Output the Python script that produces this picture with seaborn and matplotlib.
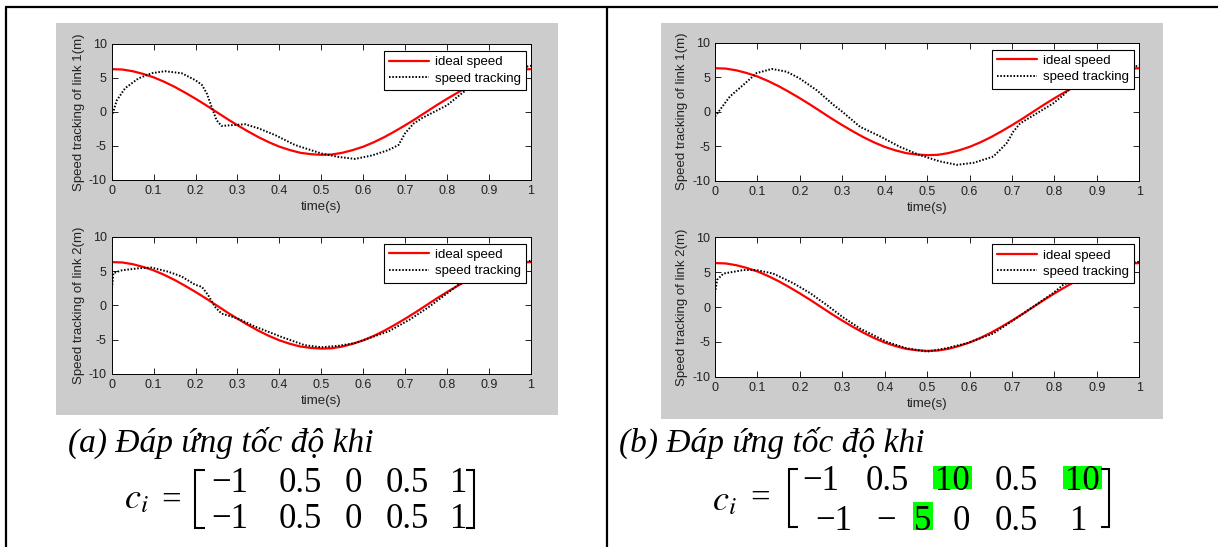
import matplotlib
matplotlib.use("Agg")
import matplotlib.pyplot as plt
import seaborn as sns
from matplotlib.lines import Line2D
from matplotlib.patches import Rectangle

# ---------------- data ----------------
t_ideal = [0, 0.025, 0.05, 0.075, 0.1, 0.125, 0.15, 0.175, 0.2, 0.225, 0.25,
           0.275, 0.3, 0.325, 0.35, 0.375, 0.4, 0.425, 0.45, 0.475, 0.5,
           0.525, 0.55, 0.575, 0.6, 0.625, 0.65, 0.675, 0.7, 0.725, 0.75,
           0.775, 0.8, 0.825, 0.85, 0.875, 0.9, 0.925, 0.95, 0.975, 1.0]
v_ideal = [6.3, 6.25, 6.0, 5.6, 5.1, 4.45, 3.7, 2.85, 1.95, 1.0, 0.0,
           -1.0, -1.95, -2.85, -3.7, -4.45, -5.1, -5.6, -6.0, -6.2, -6.3,
           -6.25, -6.0, -5.6, -5.1, -4.45, -3.7, -2.85, -1.95, -1.0, 0.0,
           1.0, 1.95, 2.85, 3.7, 4.45, 5.1, 5.6, 6.0, 6.25, 6.3]

# (a) link 1 tracking
t_a1 = [0, 0.012, 0.032, 0.064, 0.095, 0.127, 0.167, 0.199, 0.215, 0.227, 0.238,
        0.25, 0.262, 0.294, 0.318, 0.35, 0.39, 0.437, 0.5, 0.54, 0.58, 0.62,
        0.66, 0.684, 0.70, 0.72, 0.74, 0.77, 0.80, 0.83, 0.86, 0.9, 0.95, 1.0]
v_a1 = [-0.7, 1.7, 3.5, 4.95, 5.7, 6.0, 5.7, 4.7, 4.0, 2.7, 0.8,
        -1.2, -2.05, -1.9, -1.8, -2.4, -3.4, -4.85, -6.1, -6.6, -6.9, -6.4,
        -5.6, -4.85, -3.1, -1.7, -0.9, 0.05, 1.0, 2.5, 3.9, 5.2, 6.2, 6.8]

# (a) link 2 tracking
t_a2 = [0, 0.004, 0.024, 0.064, 0.095, 0.135, 0.167, 0.199, 0.215, 0.23, 0.246,
        0.262, 0.3, 0.342, 0.405, 0.46, 0.5, 0.54, 0.58, 0.66, 0.71, 0.755,
        0.80, 0.827, 0.86, 0.9, 0.95, 1.0]
v_a2 = [2.0, 4.7, 5.1, 5.4, 5.5, 4.9, 4.2, 3.0, 2.7, 1.5, -0.2,
        -1.2, -1.9, -3.1, -4.6, -5.8, -6.1, -5.9, -5.5, -3.8, -2.1, -0.3,
        1.75, 3.0, 4.0, 5.0, 6.0, 6.5]

# (b) link 1 tracking
t_b1 = [0, 0.012, 0.035, 0.067, 0.098, 0.134, 0.169, 0.2, 0.24, 0.279, 0.3,
        0.342, 0.39, 0.436, 0.483, 0.53, 0.57, 0.61, 0.656, 0.687, 0.703,
        0.719, 0.758, 0.797, 0.821, 0.837, 0.9, 0.95, 1.0]
v_b1 = [-0.7, 0.3, 2.2, 3.9, 5.6, 6.2, 5.8, 4.8, 3.1, 1.0, 0.0,
        -2.2, -3.6, -5.1, -6.3, -7.2, -7.7, -7.4, -6.5, -4.6, -2.9,
        -1.7, -0.25, 1.2, 2.4, 3.4, 5.0, 6.0, 6.7]

# (b) link 2 tracking
t_b2 = [0, 0.005, 0.02, 0.067, 0.098, 0.137, 0.185, 0.224, 0.263, 0.3, 0.342,
        0.405, 0.45, 0.5, 0.546, 0.593, 0.656, 0.703, 0.75, 0.797, 0.821,
        0.86, 0.9, 0.95, 1.0]
v_b2 = [2.0, 3.9, 4.8, 5.3, 5.3, 4.8, 3.4, 2.0, 0.3, -1.4, -3.1,
        -5.0, -5.9, -6.4, -5.9, -5.2, -3.8, -1.9, 0.05, 2.0, 3.2,
        4.2, 5.2, 6.1, 6.5]

x_ticks = [0, 0.1, 0.2, 0.3, 0.4, 0.5, 0.6, 0.7, 0.8, 0.9, 1]
x_tick_labels = ["0", "0.1", "0.2", "0.3", "0.4", "0.5", "0.6", "0.7", "0.8", "0.9", "1"]
y_ticks = [-10, -5, 0, 5, 10]
y_tick_labels = ["-10", "-5", "0", "5", "10"]

series_labels = ["ideal speed", "speed tracking"]
y_labels = ["Speed tracking of link 1(m)", "Speed tracking of link 2(m)"]
x_label = "time(s)"

caption_a = "(a) Đáp ứng tốc độ khi"
caption_b = "(b) Đáp ứng tốc độ khi"
matrix_a = [["−1", "0.5", "0", "0.5", "1"],
            ["−1", "0.5", "0", "0.5", "1"]]
matrix_b = [["−1", "0.5", "10", "0.5", "10"],
            ["−1", "−", "5", "0", "0.5", "1"]]
highlight_b = [[False, False, True, False, True],
               [False, False, True, False, False, False]]

# ---------------- layout ----------------
W, H = 1218, 547
sns.set_style("ticks")
plt.rcParams['font.family'] = ['Liberation Sans', 'DejaVu Sans']
plt.rcParams['mathtext.fontset'] = 'stix'
plt.rcParams['text.color'] = 'black'

fig = plt.figure(figsize=(W / 100, H / 100), dpi=100)
fig.patch.set_facecolor('white')


def fx(x):
    return x / W


def fy(y):
    return 1 - y / H


def add_rect(x0, y0, x1, y1, color, z=-1):
    fig.patches.append(Rectangle((fx(x0), fy(y1)), (x1 - x0) / W, (y1 - y0) / H,
                                 transform=fig.transFigure, facecolor=color,
                                 edgecolor='none', zorder=z))


def add_line(xs, ys, lw=1.5):
    fig.lines.append(Line2D([fx(x) for x in xs], [fy(y) for y in ys],
                            transform=fig.transFigure, color='black', lw=lw,
                            solid_capstyle='butt', solid_joinstyle='miter',
                            zorder=5))


# table borders
add_line([5, 1218], [7, 7], lw=1.6)
add_line([6, 6], [7, 547], lw=1.6)
add_line([607, 607], [7, 547], lw=1.6)

# grey figure panels
add_rect(56, 23, 558, 415, '#cccccc', z=-2)
add_rect(661, 23, 1163, 419, '#cccccc', z=-2)

axes_boxes = [
    (111.7, 44, 531, 180),
    (111.7, 236.7, 531, 374),
    (715, 42.7, 1139.3, 180.7),
    (715, 237.3, 1139.3, 376.7),
]
tracks = [(t_a1, v_a1), (t_a2, v_a2), (t_b1, v_b1), (t_b2, v_b2)]

for i, (box, (tt, vv)) in enumerate(zip(axes_boxes, tracks)):
    x0, y0, x1, y1 = box
    ax = fig.add_axes([fx(x0), fy(y1), (x1 - x0) / W, (y1 - y0) / H])
    ax.set_zorder(2)
    ax.set_facecolor('white')
    sns.lineplot(x=t_ideal, y=v_ideal, ax=ax, color='#ff0000', lw=1.6,
                 label=series_labels[0], estimator=None, sort=False)
    sns.lineplot(x=tt, y=vv, ax=ax, color='black', lw=1.4,
                 linestyle=(0, (0.8, 0.9)), label=series_labels[1],
                 estimator=None, sort=False)
    ax.set_xlim(0, 1)
    ax.set_ylim(-10, 10)
    ax.set_xticks(x_ticks)
    ax.set_xticklabels(x_tick_labels)
    ax.set_yticks(y_ticks)
    ax.set_yticklabels(y_tick_labels)
    ax.tick_params(direction='in', top=True, right=True, length=4, width=0.6,
                   labelsize=9, pad=3.5, colors='black', labelcolor='#222222')
    for s in ax.spines.values():
        s.set_visible(True)
        s.set_linewidth(0.7)
        s.set_color('black')
    ax.set_xlabel(x_label, fontsize=9.5, labelpad=3, color='#222222')
    ax.set_ylabel(y_labels[i % 2], fontsize=9.5, labelpad=3, color='#222222')
    leg = ax.legend(loc='upper right', bbox_to_anchor=(0.988, 0.95),
                    borderaxespad=0, frameon=True, fancybox=False,
                    edgecolor='black', framealpha=1, fontsize=9.5,
                    handlelength=3.0, handletextpad=0.45, labelspacing=0.3,
                    borderpad=0.4)
    leg.get_frame().set_linewidth(0.8)
    for txt in leg.get_texts():
        txt.set_color('black')

# ---------------- captions ----------------
serif = ['Liberation Serif', 'DejaVu Serif']
fig.text(fx(68), fy(452), caption_a, family=serif, style='italic', fontsize=24,
         ha='left', va='baseline', color='black')
fig.text(fx(619), fy(452), caption_b, family=serif, style='italic', fontsize=24,
         ha='left', va='baseline', color='black')

# c_i =
fig.text(fx(124), fy(508), r'$c_i$', fontsize=26, ha='left', va='baseline', color='black')
fig.text(fx(171.5), fy(510), '=', family=serif, fontsize=25, ha='center', va='baseline', color='black')
fig.text(fx(712), fy(510), r'$c_i$', fontsize=26, ha='left', va='baseline', color='black')
fig.text(fx(760), fy(508), '=', family=serif, fontsize=25, ha='center', va='baseline', color='black')

# brackets
def bracket(xv, xs, ytop, ybot):
    add_line([xs, xv, xv, xs], [ytop, ytop, ybot, ybot], lw=1.5)


bracket(195, 205, 470, 528)
bracket(474, 466, 470, 528)
bracket(789, 798, 469, 527)
bracket(1109, 1101, 469, 527)

# matrix entries
a_cx = [230, 300, 353.5, 407.5, 458.5]
a_base = [492, 528]
for r, row in enumerate(matrix_a):
    for c, s in enumerate(row):
        fig.text(fx(a_cx[c]), fy(a_base[r]), s, family=serif, fontsize=25,
                 ha='center', va='baseline', color='black')

b_cx = [[820.5, 887, 952.5, 1016.5, 1082.5],
        [834, 886, 923, 961.5, 1016.5, 1078.5]]
b_base = [490, 530]
b_hl_boxes = [[None, None, (933, 466, 972, 489), None, (1063, 466, 1102, 489)],
              [None, None, (913, 502, 933, 530), None, None, None]]
for r, row in enumerate(matrix_b):
    for c, s in enumerate(row):
        if highlight_b[r][c]:
            add_rect(*b_hl_boxes[r][c], '#00ff00', z=1)
        fig.text(fx(b_cx[r][c]), fy(b_base[r]), s, family=serif, fontsize=25,
                 ha='center', va='baseline', zorder=3, color='black')

fig.savefig('out.png', dpi=100, facecolor='white')
